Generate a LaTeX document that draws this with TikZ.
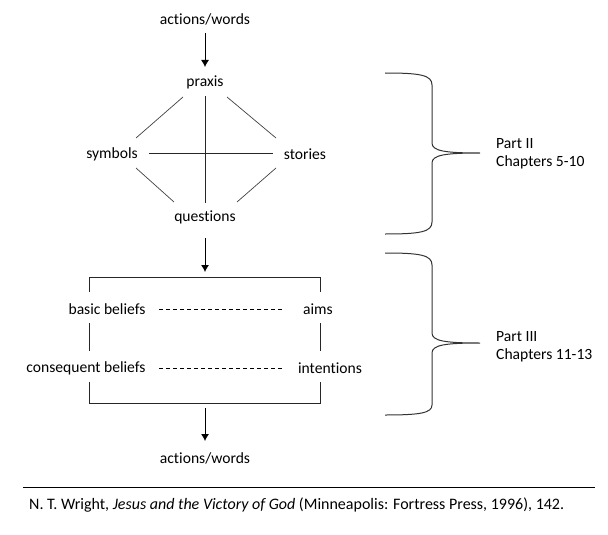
\documentclass[tikz,border=0pt]{standalone}
\usepackage{fontspec}
\setmainfont[Ligatures=NoCommon]{Carlito}
\usetikzlibrary{arrows.meta}
\begin{document}
\begin{tikzpicture}[x=1pt,y=-1pt,
  lbl/.style={font=\fontsize{15.6}{18}\selectfont, inner sep=0pt},
  ln/.style={line width=0.9pt, black!85},
  thin/.style={line width=0.7pt, black!75},
  arr/.style={line width=0.9pt, -{Latex[length=7pt,width=8pt]}},
  brace/.style={line width=1pt, black!80},
  dsh/.style={line width=0.8pt, dash pattern=on 4pt off 3pt}]
\useasboundingbox (0,0) rectangle (608,535);
% top part
\node[lbl] (aw1) at (205,19) {actions/words};
\node[lbl] (px) at (205,82) {praxis};
\node[lbl] (sy) at (112,154) {symbols};
\node[lbl] (st) at (305,154) {stories};
\node[lbl] (qu) at (205,217) {questions};
\coordinate (a1s) at (205,33);
\coordinate (a1e) at (205,67);
\draw[arr] (a1s) -- (a1e);
\coordinate (d1a) at (183,97); \coordinate (d1b) at (136,138);
\coordinate (d2a) at (227,97); \coordinate (d2b) at (276,138);
\coordinate (d3a) at (136,168); \coordinate (d3b) at (174,202);
\coordinate (d4a) at (276,168); \coordinate (d4b) at (237,202);
\draw[thin] (d1a) -- (d1b);
\draw[thin] (d2a) -- (d2b);
\draw[thin] (d3a) -- (d3b);
\draw[thin] (d4a) -- (d4b);
\coordinate (v1a) at (205,96); \coordinate (v1b) at (205,203);
\draw[ln] (v1a) -- (v1b);
\coordinate (h1a) at (149,153); \coordinate (h1b) at (273,153);
\draw[ln] (h1a) -- (h1b);
\coordinate (a2s) at (205,238);
\coordinate (a2e) at (205,272);
\draw[arr] (a2s) -- (a2e);
% box
\node[lbl] (bb) at (107,309) {basic beliefs};
\node[lbl] (am) at (318,309) {aims};
\node[lbl] (cb) at (86,368) {consequent beliefs};
\node[lbl] (in) at (330,368) {intentions};
\coordinate (bl1) at (89,292); \coordinate (bl2) at (89,277);
\coordinate (br2) at (320,277); \coordinate (br1) at (320,292);
\draw[ln] (bl1) -- (bl2) -- (br2) -- (br1);
\coordinate (ml1) at (89,323); \coordinate (ml2) at (89,351);
\coordinate (mr1) at (320,323); \coordinate (mr2) at (320,351);
\draw[ln] (ml1) -- (ml2);
\draw[ln] (mr1) -- (mr2);
\coordinate (ll1) at (89,382); \coordinate (ll2) at (89,403);
\coordinate (lr2) at (320,403); \coordinate (lr1) at (320,382);
\draw[ln] (ll1) -- (ll2) -- (lr2) -- (lr1);
\coordinate (ds1a) at (159,309); \coordinate (ds1b) at (284,309);
\coordinate (ds2a) at (159,368); \coordinate (ds2b) at (284,368);
\draw[dsh] (ds1a) -- (ds1b);
\draw[dsh] (ds2a) -- (ds2b);
\coordinate (a3s) at (205,408);
\coordinate (a3e) at (205,441);
\draw[arr] (a3s) -- (a3e);
\node[lbl] (aw2) at (205,458) {actions/words};
% braces
\draw[brace] (385,73) .. controls (420,73) and (432,75) .. (432,85)
  -- (432,143) .. controls (432,151) and (445,153) .. (480,153)
  .. controls (445,153) and (432,155) .. (432,163)
  -- (432,222) .. controls (432,232) and (420,234) .. (385,234);
\draw[brace] (385,253) .. controls (420,253) and (432,255) .. (432,265)
  -- (432,333) .. controls (432,341) and (445,343) .. (480,343)
  .. controls (445,343) and (432,345) .. (432,353)
  -- (432,405) .. controls (432,413) and (420,415) .. (385,415);
\node[lbl, anchor=west, align=left] (p2) at (496,154) {Part II\\Chapters 5-10};
\node[lbl, anchor=west, align=left] (p3) at (496,347) {Part III\\Chapters 11-13};
% footer
\coordinate (fl1) at (23,487); \coordinate (fl2) at (595,487);
\draw[line width=1pt] (fl1) -- (fl2);
\node[lbl, font=\fontsize{16}{19}\selectfont, anchor=west] (ft) at (29,505) {N. T. Wright, \textit{Jesus and the Victory of God} (Minneapolis: Fortress Press, 1996), 142.};
\end{tikzpicture}
\end{document}
